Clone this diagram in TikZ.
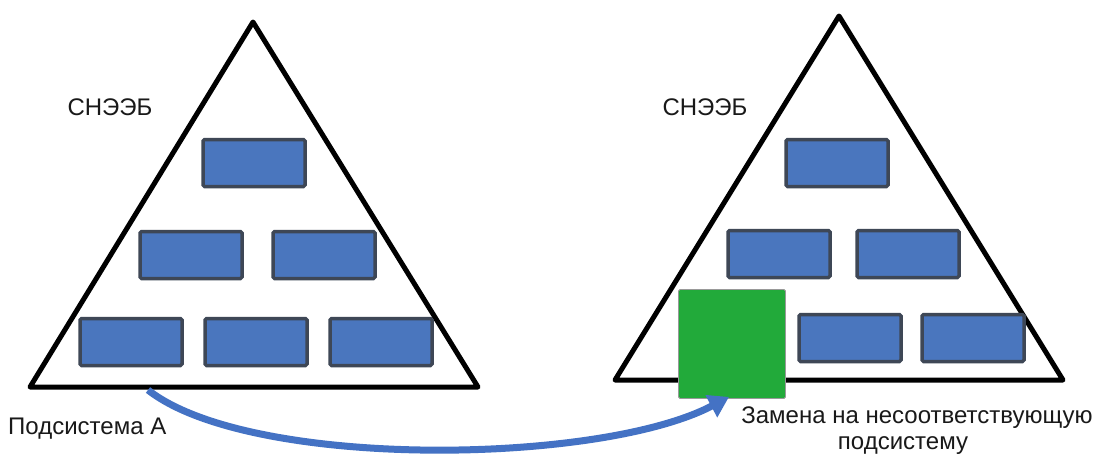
\documentclass[tikz,border=0pt]{standalone}
\usepackage{fontspec}
\setmainfont{Liberation Sans}
\usetikzlibrary{arrows.meta}
\definecolor{boxfill}{HTML}{4A76BE}
\definecolor{boxline}{HTML}{3E4756}
\definecolor{grn}{HTML}{22AA3A}
\definecolor{arr}{HTML}{4472C4}
\tikzset{
  pyr/.style={draw=black, line width=5pt, line join=round},
  blk/.style={draw=boxline, fill=boxfill, line width=3.5pt, rounded corners=1.5pt, minimum width=102pt, minimum height=47pt, inner sep=0pt},
  grnbox/.style={draw=black!40, fill=grn, line width=0.8pt, rounded corners=1.5pt, minimum width=107pt, minimum height=109pt, inner sep=0pt},
  lbl/.style={font=\fontsize{24}{28}\selectfont, inner sep=0pt, text=black!90},
  conn/.style={draw=arr, line width=7pt, -{Triangle[length=20pt,width=24pt]}}
}
\begin{document}
\begin{tikzpicture}[x=1pt,y=-1pt]
\useasboundingbox (0,0) rectangle (1095,456);
\fill[white] (0,0) rectangle (1095,456);
% left pyramid
\draw[pyr] (253,22) -- (478,387) -- (30,387) -- cycle;
\coordinate (startA) at (148,390);
\node[blk] (l1) at (254,163) {};
\node[blk] (l2) at (191,255) {};
\node[blk] (l3) at (324,255) {};
\node[blk] (l4) at (131,342) {};
\node[blk] (l5) at (256,342) {};
\node[blk] (l6) at (381,342) {};
\node[lbl] (t1) at (110,107) {СНЭЭБ};
% right pyramid
\draw[pyr] (839,16) -- (1063,380) -- (615,380) -- cycle;
\node[blk] (r1) at (837,163) {};
\node[blk] (r2) at (779,254) {};
\node[blk] (r3) at (908,254) {};
\node[blk] (r5) at (850,338) {};
\node[blk] (r6) at (973,338) {};
\node[grnbox] (g) at (732,344) {};
\node[lbl] (t2) at (705,107) {СНЭЭБ};
% labels
\node[lbl, anchor=west] (sa) at (8,429) {Подсистема А};
\node[lbl] (z1) at (917,418) {Замена на несоответствующую};
\node[lbl] (z2) at (903,446) {подсистему};
% arrow
\draw[conn] (startA) .. controls (250,470) and (600,465) .. ([xshift=-3pt,yshift=2pt]g.south);
\end{tikzpicture}
\end{document}
